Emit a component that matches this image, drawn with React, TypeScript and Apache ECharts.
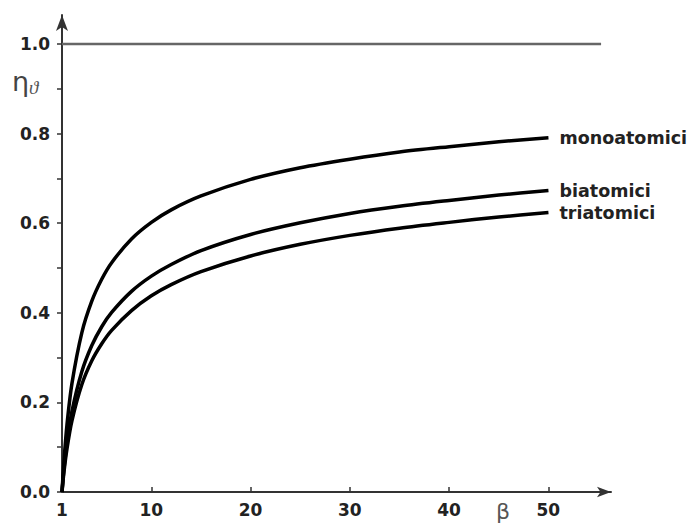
import React, { useEffect, useRef } from "react";
import * as echarts from "echarts";

const beta = [1, 1.2, 1.5, 2, 3, 4, 5, 6, 8, 10, 12, 15, 20, 25, 30, 35, 40, 45, 50];
const mono = [0, 0.07, 0.15, 0.242, 0.356, 0.426, 0.475, 0.512, 0.565, 0.602, 0.63, 0.661, 0.698, 0.724, 0.743, 0.759, 0.771, 0.782, 0.791];
const bi = [0, 0.051, 0.109, 0.18, 0.269, 0.327, 0.369, 0.401, 0.448, 0.482, 0.508, 0.539, 0.575, 0.601, 0.622, 0.638, 0.651, 0.663, 0.673];
const tri = [0, 0.045, 0.096, 0.159, 0.24, 0.293, 0.331, 0.361, 0.405, 0.438, 0.463, 0.492, 0.527, 0.553, 0.573, 0.589, 0.602, 0.614, 0.624];
const seriesNames = ["monoatomici", "biatomici", "triatomici"];
const limitLine = [[1, 1], [55.3, 1]];

const FONT = "DejaVu Sans";

export default function App() {
  const ref = useRef<HTMLDivElement>(null);
  useEffect(() => {
    if (!ref.current) return;
    const chart = echarts.init(ref.current, undefined, { renderer: "svg" });
    const curves = [mono, bi, tri].map((vals, i) => ({
      type: "line",
      name: seriesNames[i],
      xAxisIndex: 0,
      yAxisIndex: 0,
      data: beta.map((b, j) => [b, vals[j]]),
      smooth: 0.3,
      showSymbol: false,
      lineStyle: { color: "#000", width: 3.5 },
      endLabel: {
        show: true,
        formatter: "{a}",
        distance: 11,
        fontFamily: FONT,
        fontWeight: "bold",
        fontSize: 17.5,
        color: "#222",
      },
    }));
    chart.setOption({
      animation: false,
      backgroundColor: "#fff",
      grid: [
        { left: 62, top: 15, width: 549, bottom: 35 },
        { left: 62, top: 44, width: 486.3, bottom: 35 },
      ],
      xAxis: [
        {
          gridIndex: 0,
          type: "value",
          min: 1,
          max: 56.3,
          axisLine: { show: true, lineStyle: { color: "#333", width: 2 }, symbol: ["none", "arrow"], symbolSize: [8, 14] },
          axisTick: { show: false },
          axisLabel: { show: false },
          splitLine: { show: false },
        },
        {
          gridIndex: 1,
          type: "value",
          min: 1,
          max: 50,
          splitNumber: 5,
          axisLine: { show: false },
          axisTick: { show: true, inside: true, length: 5, lineStyle: { color: "#333", width: 1.5 } },
          axisLabel: { show: true, margin: 9, fontFamily: FONT, fontWeight: "bold", fontSize: 17, color: "#222" },
          splitLine: { show: false },
        },
      ],
      yAxis: [
        {
          gridIndex: 0,
          type: "value",
          min: 0,
          max: 1.065,
          axisLine: { show: true, lineStyle: { color: "#333", width: 2 }, symbol: ["none", "arrow"], symbolSize: [9, 16] },
          axisTick: { show: false },
          axisLabel: { show: false },
          splitLine: { show: false },
        },
        {
          gridIndex: 1,
          type: "value",
          min: 0,
          max: 1,
          interval: 0.1,
          axisLine: { show: false },
          axisTick: { show: true, length: 5, lineStyle: { color: "#333", width: 1.5 } },
          axisLabel: {
            show: true,
            margin: 12,
            fontFamily: FONT,
            fontWeight: "bold",
            fontSize: 17,
            color: "#222",
            formatter: (v: number) => (Math.round(v * 10) % 2 === 0 ? v.toFixed(1) : ""),
          },
          splitLine: { show: false },
        },
      ],
      series: [
        {
          type: "line",
          xAxisIndex: 0,
          yAxisIndex: 0,
          data: limitLine,
          showSymbol: false,
          lineStyle: { color: "#666", width: 2.5 },
          silent: true,
        },
        ...curves,
      ],
      graphic: [
        {
          type: "text",
          left: 12,
          top: 68,
          style: {
            text: "{a|η}{b|ϑ}",
            rich: {
              a: { fontFamily: FONT, fontSize: 27, fill: "#444" },
              b: { fontFamily: "Liberation Serif", fontStyle: "italic", fontSize: 19, fill: "#555", padding: [12, 0, 0, 0] },
            },
          },
        },
        {
          type: "text",
          left: 496,
          top: 500,
          style: { text: "β", fontFamily: FONT, fontSize: 22, fill: "#555" },
        },
      ],
    });
    return () => chart.dispose();
  }, []);
  return <div ref={ref} style={{ position: "fixed", left: 0, top: 0, width: 693, height: 527 }} />;
}
